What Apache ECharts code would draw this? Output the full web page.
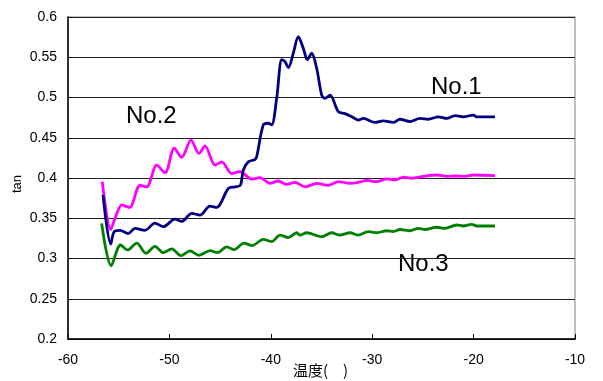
<!DOCTYPE html>
<html><head><meta charset="utf-8">
<script src="https://cdn.jsdelivr.net/npm/echarts@6/dist/echarts.min.js"></script>
<style>html,body{margin:0;padding:0;background:#fff}#c{width:603px;height:381px}</style>
</head><body><div id="c"></div>
<script>
var temp1 = [-56.55,-55.79,-55.46,-54.87,-54.05,-53.39,-52.41,-51.42,-50.60,-49.45,-48.79,-47.80,-46.98,-46.00,-45.34,-44.19,-43.53,-43.00,-42.71,-42.22,-41.56,-41.39,-40.74,-40.25,-39.91,-39.42,-38.92,-38.60,-38.27,-37.78,-37.29,-36.79,-36.40,-35.97,-35.47,-34.98,-34.65,-34.16,-33.34,-32.68,-31.86,-31.37,-30.88,-29.72,-28.90,-27.92,-27.26,-26.27,-25.29,-24.47,-23.48,-22.65,-21.83,-21.02,-20.03,-19.69,-17.89];
var tan1 = [0.379,0.318,0.333,0.335,0.331,0.3375,0.335,0.344,0.3395,0.349,0.346,0.356,0.354,0.365,0.3635,0.387,0.389,0.391,0.41,0.42,0.423,0.4265,0.466,0.468,0.466,0.499,0.547,0.5445,0.537,0.555,0.5755,0.561,0.547,0.555,0.536,0.503,0.499,0.503,0.4825,0.480,0.475,0.472,0.474,0.469,0.471,0.469,0.473,0.470,0.474,0.473,0.476,0.474,0.4775,0.476,0.478,0.476,0.476];
var temp2 = [-56.62,-55.79,-55.36,-54.70,-54.21,-53.89,-52.90,-52.24,-51.25,-50.43,-49.52,-48.79,-47.87,-47.08,-46.49,-45.50,-44.84,-43.86,-43.04,-41.88,-41.07,-40.08,-39.26,-38.43,-37.61,-36.63,-35.47,-34.33,-33.34,-32.19,-31.37,-30.54,-29.56,-28.57,-27.75,-26.93,-26.10,-24.96,-23.64,-22.65,-21.83,-20.85,-20.03,-17.89];
var tan2 = [0.3954,0.336,0.350,0.3665,0.3645,0.3635,0.391,0.389,0.416,0.4065,0.437,0.4255,0.447,0.4305,0.440,0.416,0.420,0.4055,0.408,0.3985,0.4004,0.3934,0.3963,0.392,0.3945,0.389,0.3934,0.391,0.3954,0.3934,0.3945,0.397,0.3954,0.3988,0.3975,0.401,0.3997,0.402,0.4037,0.402,0.4025,0.402,0.4037,0.403];
var temp3 = [-56.68,-55.74,-54.82,-54.13,-53.22,-52.31,-51.42,-50.60,-49.77,-48.86,-47.97,-47.08,-46.00,-45.26,-44.35,-43.63,-42.64,-41.85,-40.74,-39.91,-39.09,-38.27,-37.45,-37.12,-36.46,-34.98,-34.00,-33.18,-32.19,-31.37,-30.38,-29.56,-28.57,-27.92,-27.26,-26.27,-25.45,-24.79,-23.64,-22.82,-21.67,-21.02,-20.19,-19.69,-17.89];
var tan3 = [0.3437,0.291,0.3168,0.3106,0.319,0.3064,0.315,0.3073,0.312,0.3035,0.3095,0.304,0.3097,0.3073,0.3145,0.311,0.319,0.316,0.3237,0.321,0.329,0.326,0.332,0.329,0.332,0.327,0.332,0.329,0.332,0.329,0.3335,0.332,0.3345,0.3335,0.336,0.3345,0.3375,0.336,0.3388,0.3375,0.3416,0.3404,0.3425,0.3404,0.3404];
var seriesNames = ['No.1','No.2','No.3'];
var seriesColors = ['#000080','#FF00FF','#008000'];
var xTitle = '温度(　)';
var yTitle = 'tan';

function pairs(xs, ys){ return xs.map(function(x,i){ return [x, ys[i]]; }); }
var chart = echarts.init(document.getElementById('c'));
var font = 'Liberation Sans, Arial, sans-serif';
var allX = [temp1, temp2, temp3], allY = [tan1, tan2, tan3];
chart.setOption({
  animation: false,
  backgroundColor: '#fff',
  grid: {left: 68, right: 28, top: 17, bottom: 42, show: true, borderColor: '#aaa', borderWidth: 1.5,
    containLabel: false, outerBoundsMode: 'none'},
  xAxis: {
    type: 'value', min: -60, max: -10, interval: 10,
    axisLine: {show: true, onZero: false, lineStyle: {color: '#000', width: 1.5}},
    axisTick: {show: true, inside: true, length: 5, lineStyle: {color: '#000'}},
    axisLabel: {fontFamily: font, fontSize: 14, color: '#000', margin: 14},
    splitLine: {show: false}
  },
  yAxis: {
    type: 'value', min: 0.2, max: 0.6, interval: 0.05,
    axisLine: {show: true, lineStyle: {color: '#000', width: 1.5}},
    axisTick: {show: true, inside: true, length: 4, lineStyle: {color: '#000'}},
    axisLabel: {fontFamily: font, fontSize: 14, color: '#000', margin: 11,
      formatter: function(v){ return String(parseFloat(v.toFixed(2))); }},
    splitLine: {show: true, lineStyle: {color: '#222', width: 1}}
  },
  graphic: [
    {type: 'text', left: 11, top: 175, rotation: Math.PI/2, style: {text: yTitle, font: '13px ' + font, fill: '#000'}},
    {type: 'text', left: 293, top: 363, style: {text: xTitle, font: '15px "Noto Sans CJK JP"', fill: '#000'}},
    {type: 'text', left: 431, top: 75, style: {text: seriesNames[0], font: '24px ' + font, fill: '#000'}},
    {type: 'text', left: 126, top: 104, style: {text: seriesNames[1], font: '24px ' + font, fill: '#000'}},
    {type: 'text', left: 398, top: 252, style: {text: seriesNames[2], font: '24px ' + font, fill: '#000'}}
  ],
  series: seriesNames.map(function(n, i){
    return {name: n, type: 'line', data: pairs(allX[i], allY[i]), smooth: 0.3, symbol: 'none',
      lineStyle: {color: seriesColors[i], width: 2.8}, z: 3 - i};
  })
});
</script></body></html>
